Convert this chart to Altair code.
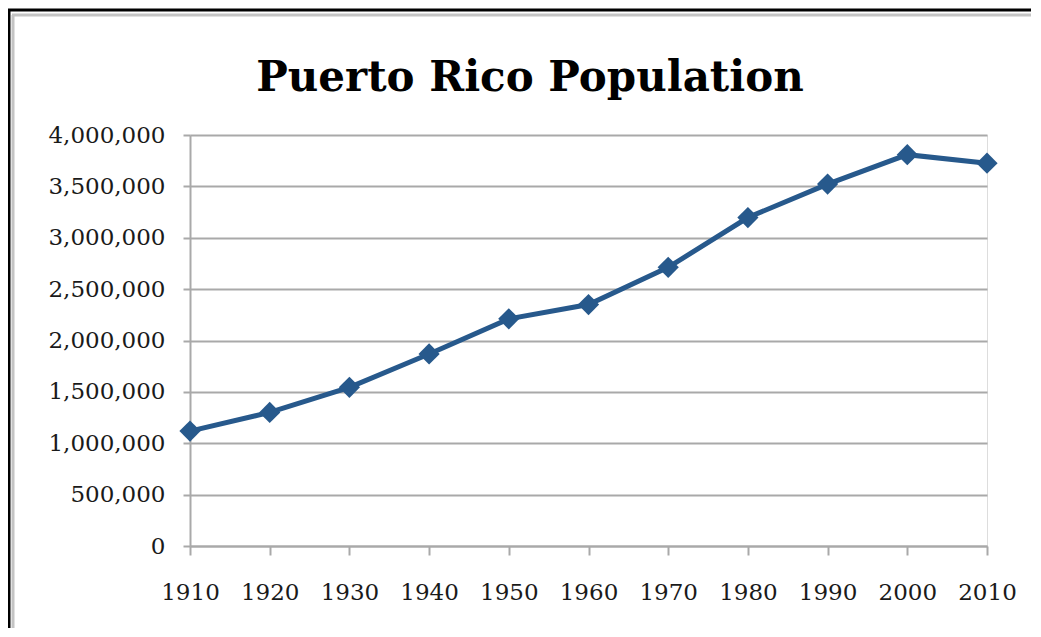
import altair as alt
import pandas as pd

years = [1910, 1920, 1930, 1940, 1950, 1960, 1970, 1980, 1990, 2000, 2010]
population = [1118012, 1299809, 1543913, 1869255, 2210703, 2349544,
              2712033, 3196520, 3522037, 3808610, 3725789]
y_ticks = [0, 500000, 1000000, 1500000, 2000000, 2500000, 3000000, 3500000, 4000000]
title_text = "Puerto Rico Population"

df = pd.DataFrame({"year": years, "pop": population})

LINE = "#27598C"
GRID = "#a9a9a9"
FONT = "DejaVu Serif"

line = alt.Chart(df).mark_line(
    color=LINE, strokeWidth=5,
    point=alt.OverlayMarkDef(shape="diamond", size=450, filled=True, color=LINE, opacity=1),
).encode(
    x=alt.X("year:Q",
            scale=alt.Scale(domain=[1910, 2010], nice=False, zero=False),
            axis=alt.Axis(values=years, format="d", title=None, grid=False,
                          tickSize=9, tickWidth=2, tickColor=GRID,
                          domainColor=GRID, domainWidth=2,
                          labelFont=FONT, labelFontSize=23, labelColor="#1a1a1a",
                          labelPadding=26, labelFlush=False)),
    y=alt.Y("pop:Q",
            scale=alt.Scale(domain=[0, 4000000], nice=False),
            axis=alt.Axis(values=y_ticks, format=",.0f", title=None, grid=True,
                          gridColor=GRID, gridWidth=2,
                          tickSize=7, tickWidth=2, tickColor=GRID,
                          domainColor=GRID, domainWidth=2,
                          labelFont=FONT, labelFontSize=23, labelColor="#1a1a1a",
                          labelPadding=18)),
)

one = alt.Data(values=[{"k": 1}])
top_black = alt.Chart(one).mark_rule(color="black", strokeWidth=3).encode(
    x=alt.value(-182), x2=alt.value(841), y=alt.value(-125))
left_black = alt.Chart(one).mark_rule(color="black", strokeWidth=3).encode(
    x=alt.value(-181), y=alt.value(-126), y2=alt.value(500))
top_grey = alt.Chart(one).mark_rule(color="#c4c4c4", strokeWidth=3).encode(
    x=alt.value(-178), x2=alt.value(841), y=alt.value(-120))
left_grey = alt.Chart(one).mark_rule(color="#c4c4c4", strokeWidth=3).encode(
    x=alt.value(-177), y=alt.value(-120), y2=alt.value(500))

title = alt.Chart(one).mark_text(
    text=title_text, font=FONT, fontSize=42, fontWeight="bold", color="black",
    align="center", baseline="alphabetic",
).encode(x=alt.value(340), y=alt.value(-44))

chart = alt.layer(top_black, left_black, top_grey, left_grey, title, line).properties(
    width=797, height=411,
    padding={"left": 182, "top": 127, "right": 44, "bottom": 82},
    autosize="none",
).configure_view(stroke=None).configure(background="white")

chart.save("out.html", embed_options={"renderer": "svg", "actions": False})
